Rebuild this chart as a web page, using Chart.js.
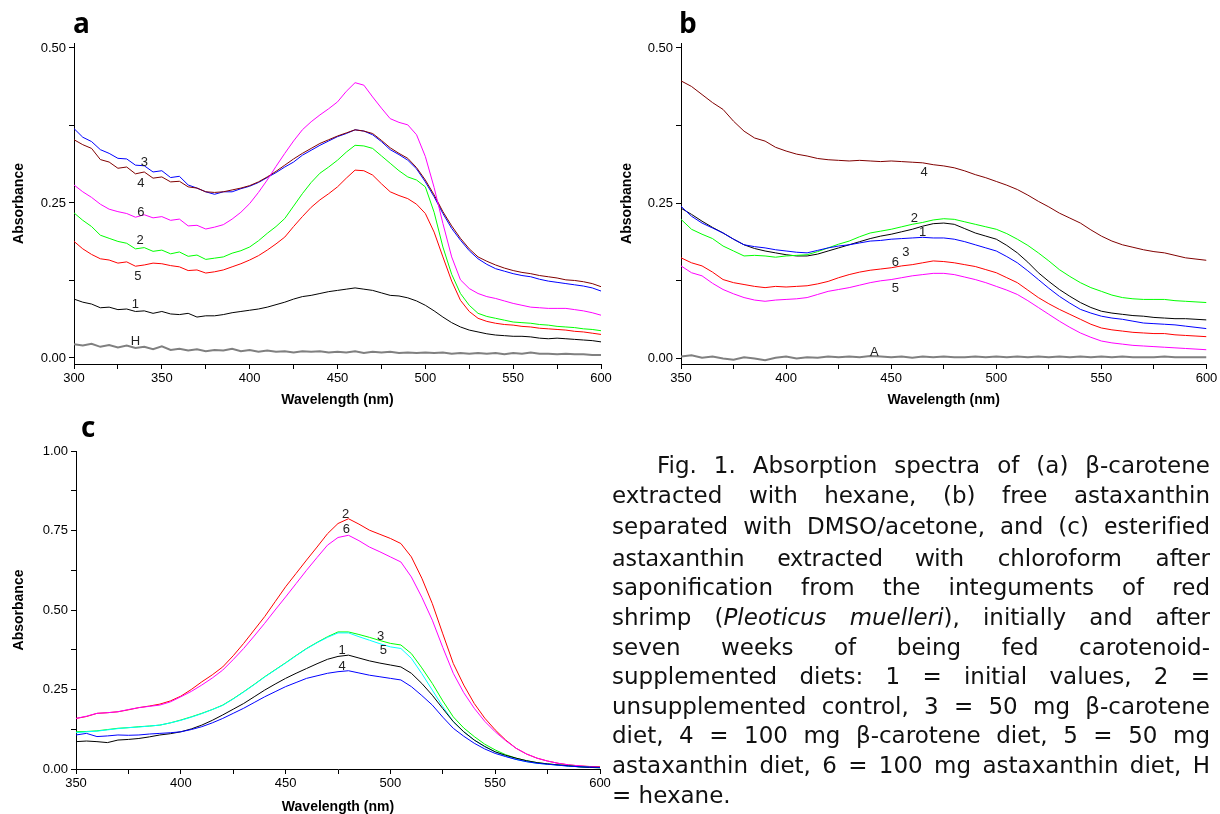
<!DOCTYPE html>
<html>
<head>
<meta charset="utf-8" />
<title>Absorption spectra</title>
<script src="https://cdn.jsdelivr.net/npm/chart.js"></script>
<style>
  body { margin: 0; background: #fff; width: 1220px; height: 814px; position: relative; overflow: hidden; }
  .panel { position: absolute; }
  .letter { position: absolute; font-family: "Open Sans", sans-serif; font-weight: 700; font-size: 28px; line-height: 28px; color: #000; }
  .caption { position: absolute; left: 612px; top: 451px; width: 598px; font-family: "DejaVu Sans", Verdana, sans-serif; font-size: 23px; line-height: 29.6px; color: #111; }
  .caption div { text-align: justify; text-align-last: justify; }
  .caption div.first { text-indent: 45px; }
  .caption div.last { text-align-last: left; }
  .alt { font-family: "Noto Sans", sans-serif; font-size: 24px; }
</style>
</head>
<body>
  <canvas id="chartA" class="panel" width="630" height="410" style="left:0;top:0"></canvas>
  <canvas id="chartB" class="panel" width="610" height="410" style="left:610px;top:0"></canvas>
  <canvas id="chartC" class="panel" width="620" height="404" style="left:0;top:410px"></canvas>

  <div class="letter" style="left:73px;top:8px">a</div>
  <div class="letter" style="left:679px;top:8px">b</div>
  <div class="letter" style="left:81px;top:412px">c</div>

  <div class="caption">
    <div class="first">Fig. 1. Absorption spectra of (a) β-carotene</div>
    <div>extracted with hexane, (b) free astaxanthin</div>
    <div>separated with DMSO/acetone, and (c) <span class="alt">esterified</span></div>
    <div><span class="alt">astaxanthin extracted with</span> chloroform after</div>
    <div>saponification from the integuments of red</div>
    <div>shrimp (<i>Pleoticus muelleri</i>), initially and after</div>
    <div>seven weeks of being fed carotenoid-</div>
    <div>supplemented diets: 1 = initial values, 2 =</div>
    <div>unsupplemented control, 3 = 50 mg β-carotene</div>
    <div>diet, 4 = 100 mg β-carotene diet, 5 = 50 mg</div>
    <div>astaxanthin diet, 6 = 100 mg astaxanthin diet, H</div>
    <div class="last">= hexane.</div>
  </div>

<script type="text/javascript">
// ---- panel a : beta-carotene in hexane (300-600 nm) ----
const waveA = [300,305,310,315,320,325,330,335,340,345,350,355,360,365,370,375,380,385,390,395,400,405,410,415,420,425,430,435,440,445,450,455,460,465,470,475,480,485,490,495,500,505,510,515,520,525,530,535,540,545,550,555,560,565,570,575,580,585,590,595,600];
const a1 = [.095,.090,.087,.081,.082,.078,.079,.075,.076,.072,.075,.071,.070,.072,.066,.068,.068,.070,.073,.075,.077,.079,.082,.086,.090,.095,.099,.101,.104,.107,.109,.111,.113,.111,.109,.105,.101,.100,.097,.092,.085,.076,.066,.057,.050,.045,.042,.039,.037,.036,.035,.035,.034,.032,.031,.032,.031,.030,.029,.028,.026];
const a2 = [.234,.222,.212,.198,.193,.188,.185,.176,.178,.172,.174,.168,.171,.164,.166,.159,.161,.163,.169,.173,.179,.189,.201,.212,.225,.245,.265,.283,.298,.308,.319,.332,.343,.342,.338,.326,.314,.302,.292,.287,.276,.235,.179,.135,.104,.085,.072,.067,.064,.061,.058,.057,.056,.054,.053,.051,.050,.049,.047,.046,.044];
const a3 = [.370,.356,.349,.336,.330,.322,.321,.311,.310,.300,.302,.291,.293,.279,.274,.268,.264,.268,.268,.273,.277,.283,.291,.299,.308,.316,.327,.335,.343,.350,.357,.362,.368,.366,.360,.349,.336,.328,.319,.305,.284,.260,.233,.209,.190,.173,.160,.151,.144,.140,.136,.133,.131,.127,.124,.122,.120,.118,.116,.113,.108];
const a4 = [.352,.344,.338,.320,.316,.306,.308,.297,.300,.290,.292,.284,.285,.276,.274,.268,.267,.268,.271,.274,.278,.284,.292,.301,.311,.321,.330,.338,.346,.352,.358,.363,.368,.366,.362,.351,.339,.330,.322,.307,.287,.263,.236,.213,.193,.176,.163,.156,.150,.145,.141,.138,.136,.133,.131,.129,.126,.125,.123,.120,.115];
const a5 = [.188,.176,.167,.160,.158,.153,.155,.148,.150,.153,.152,.149,.147,.141,.142,.137,.139,.142,.147,.152,.158,.165,.174,.184,.195,.212,.228,.243,.255,.265,.276,.290,.303,.302,.295,.281,.268,.262,.257,.248,.233,.203,.163,.124,.093,.075,.064,.059,.056,.054,.053,.051,.050,.048,.047,.046,.045,.043,.042,.040,.038];
const a6 = [.279,.268,.259,.248,.240,.236,.233,.227,.231,.226,.228,.222,.224,.213,.214,.208,.211,.215,.224,.235,.249,.267,.287,.309,.330,.350,.368,.381,.392,.402,.413,.430,.444,.440,.421,.403,.386,.380,.376,.360,.325,.275,.217,.163,.126,.112,.104,.099,.096,.092,.088,.085,.082,.081,.080,.080,.080,.078,.076,.073,.069];
const aH = [.022,.020,.023,.018,.021,.017,.020,.016,.018,.014,.019,.013,.015,.012,.014,.011,.013,.012,.015,.011,.013,.010,.012,.010,.011,.009,.011,.010,.011,.009,.010,.009,.011,.008,.010,.009,.010,.008,.009,.008,.009,.008,.009,.007,.008,.007,.008,.007,.008,.006,.008,.007,.009,.007,.007,.006,.007,.006,.006,.005,.005];

// ---- panel b : free astaxanthin (350-600 nm) ----
const waveB = [350,355,360,365,370,375,380,385,390,395,400,405,410,415,420,425,430,435,440,445,450,455,460,465,470,475,480,485,490,495,500,505,510,515,520,525,530,535,540,545,550,555,560,565,570,575,580,585,590,595,600];
const b1 = [.242,.232,.221,.211,.202,.192,.183,.177,.173,.170,.167,.165,.165,.168,.173,.178,.183,.188,.193,.197,.200,.204,.208,.213,.217,.218,.216,.209,.202,.197,.192,.182,.170,.155,.138,.124,.111,.100,.090,.082,.076,.073,.071,.069,.068,.066,.065,.064,.064,.063,.062];
const b2 = [.224,.208,.200,.193,.181,.173,.165,.166,.165,.163,.165,.166,.167,.172,.178,.184,.189,.196,.202,.205,.208,.212,.216,.219,.223,.225,.224,.220,.216,.212,.208,.201,.192,.182,.170,.157,.143,.132,.122,.114,.108,.102,.098,.096,.095,.095,.095,.093,.092,.091,.090];
const b3 = [.245,.229,.218,.210,.202,.192,.183,.180,.178,.175,.173,.171,.170,.174,.178,.181,.183,.186,.189,.190,.192,.193,.194,.195,.194,.194,.192,.188,.183,.178,.173,.164,.154,.141,.127,.113,.100,.089,.079,.073,.068,.065,.063,.060,.057,.056,.055,.054,.052,.050,.048];
const b4 = [.447,.438,.425,.412,.401,.382,.366,.355,.350,.340,.334,.329,.326,.322,.320,.319,.318,.319,.318,.317,.318,.317,.316,.315,.312,.310,.307,.302,.296,.291,.285,.279,.272,.263,.253,.244,.234,.226,.218,.207,.197,.189,.183,.179,.175,.172,.170,.166,.162,.160,.158];
const b5 = [.149,.138,.133,.121,.111,.104,.098,.094,.092,.094,.095,.096,.098,.103,.108,.111,.114,.118,.122,.125,.127,.130,.133,.135,.137,.137,.135,.131,.127,.122,.116,.110,.103,.093,.082,.071,.060,.050,.041,.034,.028,.025,.023,.021,.020,.019,.018,.017,.016,.015,.014];
const b6 = [.162,.154,.149,.139,.127,.122,.119,.116,.114,.116,.115,.116,.117,.120,.124,.130,.135,.139,.142,.144,.146,.149,.151,.154,.157,.156,.154,.151,.148,.143,.138,.130,.122,.110,.098,.088,.079,.071,.063,.055,.049,.046,.044,.042,.041,.040,.040,.038,.037,.036,.035];
const bA = [.003,.005,.001,.003,.000,-.002,.002,.000,-.003,.001,.003,.000,.002,.001,.003,.002,.003,.002,.004,.003,.002,.003,.001,.003,.002,.003,.002,.002,.003,.002,.003,.002,.003,.002,.003,.002,.003,.002,.003,.002,.003,.002,.003,.002,.002,.002,.003,.002,.002,.002,.002];

// ---- panel c : esterified astaxanthin (350-600 nm) ----
const waveC = waveB;
const c1 = [.086,.088,.086,.083,.091,.093,.096,.101,.107,.111,.117,.126,.138,.153,.170,.188,.206,.227,.248,.267,.285,.301,.316,.331,.345,.354,.358,.349,.340,.333,.327,.321,.301,.269,.232,.190,.149,.117,.091,.071,.054,.043,.034,.026,.020,.016,.013,.010,.007,.005,.004];
const c2 = [.159,.165,.175,.177,.180,.186,.193,.198,.204,.214,.229,.250,.274,.296,.321,.356,.395,.437,.479,.526,.573,.615,.657,.698,.740,.772,.787,.770,.751,.738,.725,.709,.667,.600,.520,.425,.332,.264,.206,.160,.123,.091,.065,.047,.034,.025,.018,.013,.010,.008,.007];
const c3 = [.117,.118,.120,.124,.128,.130,.133,.135,.138,.145,.154,.164,.175,.187,.201,.221,.243,.266,.290,.312,.334,.357,.379,.398,.416,.431,.431,.423,.414,.404,.395,.390,.363,.318,.269,.214,.164,.129,.102,.078,.060,.045,.034,.026,.020,.016,.013,.010,.007,.005,.004];
const c4 = [.107,.112,.102,.104,.107,.106,.107,.110,.112,.114,.117,.124,.133,.145,.159,.175,.191,.209,.227,.243,.259,.272,.285,.293,.301,.306,.309,.302,.295,.290,.285,.280,.259,.231,.201,.163,.128,.103,.081,.063,.049,.039,.030,.023,.018,.015,.012,.009,.007,.006,.005];
const c5 = [.114,.117,.119,.123,.127,.130,.132,.135,.138,.145,.153,.163,.174,.187,.200,.220,.242,.265,.289,.311,.333,.356,.378,.397,.414,.428,.428,.416,.405,.394,.384,.379,.348,.300,.248,.196,.149,.117,.091,.070,.054,.040,.030,.023,.018,.015,.012,.009,.007,.005,.004];
const c6 = [.159,.166,.175,.177,.180,.187,.193,.197,.201,.211,.227,.244,.264,.286,.311,.344,.379,.418,.458,.500,.541,.583,.625,.665,.704,.728,.735,.718,.698,.683,.667,.651,.604,.540,.468,.382,.301,.240,.191,.150,.117,.089,.065,.047,.034,.025,.018,.013,.010,.007,.005];

// tick positions
const xTicksA = [300,325,350,375,400,425,450,475,500,525,550,575,600];
const xTicksBC = [350,375,400,425,450,475,500,525,550,575,600];
const yTicksHalf = [0,0.125,0.25,0.375,0.5];
const yTicksOne = [0,0.125,0.25,0.375,0.5,0.625,0.75,0.875,1];

// curve numbers: [text, wavelength, absorbance]
const marksA = [['3',340,0.316],['4',338,0.282],['6',338,0.235],['2',337.6,0.190],['5',336.4,0.132],['1',335,0.087],['H',335,0.026]];
const marksB = [['4',465.6,0.300],['2',461,0.226],['1',465,0.203],['3',457,0.171],['6',452,0.155],['5',452,0.113],['A',442,0.010]];
const marksC = [['2',478.6,0.80],['6',479,0.752],['3',495.3,0.416],['5',496.6,0.372],['1',477,0.374],['4',477,0.322]];

const COL = { k:'#000000', g:'#00ff00', b:'#0000ff', br:'#800000', r:'#ff0000', m:'#ff00ff', gr:'#808080', c:'#00ffff' };
const FONT = '"Liberation Sans", Arial, sans-serif';

const pts = (xs, ys) => xs.map((x, i) => ({ x: x, y: ys[i] }));
const ds = (xs, ys, color, w) => ({ data: pts(xs, ys), borderColor: color, borderWidth: w || 1, pointRadius: 0, tension: 0 });

function labelPlugin(items) {
    return {
        id: 'curveLabels',
        afterDatasetsDraw(chart) {
            const ctx = chart.ctx, xs = chart.scales.x, ys = chart.scales.y;
            ctx.save();
            ctx.font = '13px ' + FONT;
            ctx.fillStyle = '#222';
            ctx.textAlign = 'center';
            ctx.textBaseline = 'middle';
            items.forEach(([t, nm, v]) => ctx.fillText(t, xs.getPixelForValue(nm), ys.getPixelForValue(v)));
            ctx.restore();
        }
    };
}

//builds one spectrum panel
function panel(id, datasets, xr, yr, xTicks, yTicks, yStep, marks, geo) {
    new Chart(document.getElementById(id), {
        type: 'line',
        data: { datasets: datasets },
        options: {
            responsive: false,
            animation: false,
            layout: { padding: { left: 0, top: geo.top, right: geo.right, bottom: 0 } },
            plugins: { legend: { display: false }, tooltip: { enabled: false } },
            scales: {
                x: {
                    type: 'linear', min: xr[0], max: xr[1],
                    afterBuildTicks: s => { s.ticks = xTicks.map(v => ({ value: v })); },
                    afterFit: s => { s.height = geo.xh; },
                    ticks: { autoSkip: false, maxRotation: 0, padding: 2, color: '#000', font: { family: FONT, size: 13 },
                             callback: v => (v % 50 === 0 ? String(v) : '') },
                    grid: { drawOnChartArea: false, drawTicks: true, tickLength: 5, color: '#000' },
                    border: { display: true, color: '#000', width: 1 },
                    title: { display: true, text: 'Wavelength (nm)', color: '#000',
                             font: { family: FONT, size: 14, weight: 'bold', lineHeight: 1 }, padding: { top: 0, bottom: geo.xtp } }
                },
                y: {
                    min: yr[0], max: yr[1],
                    afterBuildTicks: s => { s.ticks = yTicks.map(v => ({ value: v })); },
                    afterFit: s => { s.width = geo.yw; },
                    ticks: { autoSkip: false, padding: 3, color: '#000', font: { family: FONT, size: 13 },
                             callback: v => (Math.abs(v / yStep - Math.round(v / yStep)) < 1e-6 ? v.toFixed(2) : '') },
                    grid: { drawOnChartArea: false, drawTicks: true, tickLength: 5, color: '#000' },
                    border: { display: true, color: '#000', width: 1 },
                    title: { display: true, text: 'Absorbance', color: '#000',
                             font: { family: FONT, size: 14, weight: 'bold', lineHeight: 1 }, padding: { top: geo.ytp, bottom: 0 } }
                }
            }
        },
        plugins: [labelPlugin(marks)]
    });
}

panel('chartA', [
    ds(waveA, aH, COL.gr, 2), ds(waveA, a1, COL.k), ds(waveA, a5, COL.r), ds(waveA, a2, COL.g),
    ds(waveA, a6, COL.m), ds(waveA, a4, COL.br), ds(waveA, a3, COL.b)
], [300, 600], [-0.0097, 0.508], xTicksA, yTicksHalf, 0.25, marksA,
   { top: 43, right: 29, yw: 74, xh: 46, ytp: 12.5, xtp: 3 });

panel('chartB', [
    ds(waveB, bA, COL.gr, 2), ds(waveB, b5, COL.m), ds(waveB, b6, COL.r), ds(waveB, b3, COL.b),
    ds(waveB, b2, COL.g), ds(waveB, b1, COL.k), ds(waveB, b4, COL.br)
], [350, 600], [-0.009, 0.508], xTicksBC, yTicksHalf, 0.25, marksB,
   { top: 43, right: 13.5, yw: 71, xh: 46, ytp: 9.7, xtp: 3 });

panel('chartC', [
    ds(waveC, c4, COL.b), ds(waveC, c1, COL.k), ds(waveC, c5, COL.c), ds(waveC, c3, COL.g),
    ds(waveC, c6, COL.m), ds(waveC, c2, COL.r)
], [350, 600], [0, 1], xTicksBC, yTicksOne, 0.25, marksC,
   { top: 41, right: 20, yw: 76, xh: 45, ytp: 11.7, xtp: 0 });
</script>
</body>
</html>
